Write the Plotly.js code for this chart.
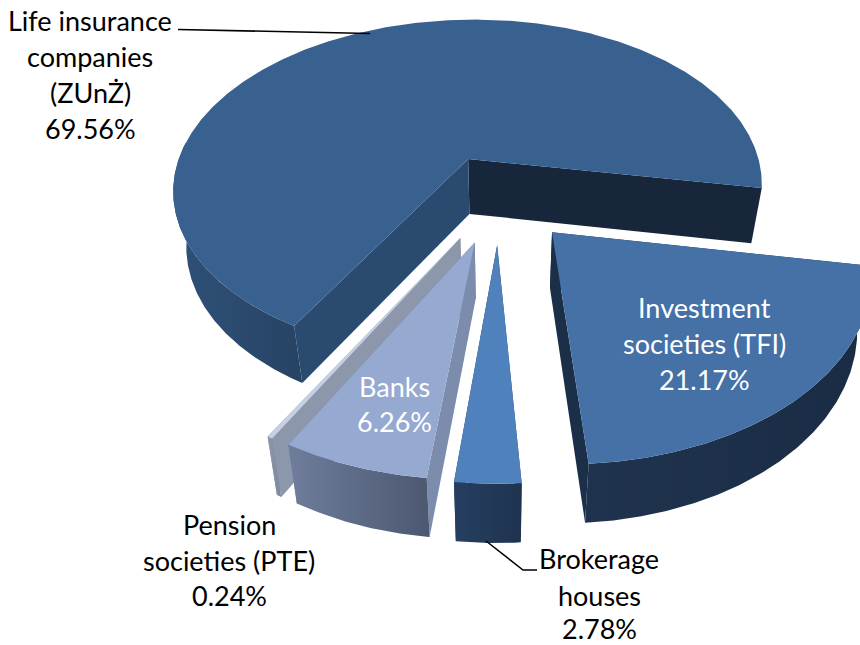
<!DOCTYPE html>
<html><head><meta charset="utf-8"><script src="https://cdn.plot.ly/plotly-3.0.1.min.js"></script>
<style>html,body{margin:0;padding:0;background:#fff}#c{width:860px;height:645px}</style></head><body><div id="c"></div>
<script>
const categories=["Life insurance companies (ZUnŻ)","Investment societies (TFI)","Brokerage houses","Banks","Pension societies (PTE)"];
const shares=[69.56,21.17,2.78,6.26,0.24];
const shareLabels=["69.56%","21.17%","2.78%","6.26%","0.24%"];
const explosion=[0.2506,0.2549,0.2569,0.2546,0.2517];
const topColors=['#396190','#4571a7','#4f81bd','#95a9d1','#c5d0e3'];
const fromWallColors=['#2b4a70','#1c2f48','#263f60','#7b8cad','#8c97ab'];
const toWallColors=['#17263a','#1c2f48','#1f3350','#6f7d9c','#8c97ab'];
const rimLeftColors=['#2f5178','#20334e','#263f60','#6f7d9c','#8c97ab'];
const rimRightColors=['#274365','#1a2c44','#1f3350','#4c5870','#7c88a0'];
const paintOrder=[0,4,1,3,2];
// projection of the tilted pie
const view={cx:498.99,cy:197.59,a:301.65,s:5.57,b:176.79,t:-2.65,k:0.1779,m:-0.0042,phi0:99.05};
const rad=d=>d*Math.PI/180;
const total=shares.reduce((u,v)=>u+v,0);
let start=view.phi0-shares[0]/total*360;
const slices=shares.map((v,i)=>{const sw=v/total*360;const S={from:start,to:start+sw,mid:start+sw/2,e:explosion[i]};start+=sw;return S;});
const proj=(X,Y)=>{const w=1+view.k*Y+view.m*X;return [view.cx+(view.a*X+view.s*Y)/w,view.cy-(view.b*Y+view.t*X)/w];};
const pt=(i,r,ph)=>{const S=slices[i];return proj(S.e*Math.sin(rad(S.mid))+r*Math.sin(rad(ph)),S.e*Math.cos(rad(S.mid))+r*Math.cos(rad(ph)));};
const drop=q=>[q[0]-0.04*(q[0]-500),q[1]+54+0.0135*(q[1]-100)];
function arc(i,a0,a1){const n=Math.max(2,Math.ceil(Math.abs(a1-a0)*2));const o=[];for(let j=0;j<=n;j++)o.push(pt(i,1,a0+(a1-a0)*j/n));return o;}
const traces=[];
function poly(i,pts,style){traces.push(Object.assign({type:'scatter',mode:'lines',name:categories[i],x:pts.map(q=>q[0]).concat(pts[0][0]),y:pts.map(q=>q[1]).concat(pts[0][1]),fill:'toself',line:{width:0},hoverinfo:'name'},style));}
for(const i of paintOrder){
  const S=slices[i];const A=pt(i,0,0);const F=pt(i,1,S.from),G=pt(i,1,S.to);
  const fromWall=[[A,F,drop(F),drop(A)],{fillcolor:fromWallColors[i]}];
  const toWall=[[A,G,drop(G),drop(A)],{fillcolor:toWallColors[i]}];
  // the wall that faces the viewer is painted last
  const walls=Math.sin(rad(S.mid))<0?[toWall,fromWall]:[fromWall,toWall];
  walls.forEach(w=>poly(i,w[0],w[1]));
  // rim: only the part facing the viewer
  const rim=arc(i,S.from,i===0?-85:S.to);
  poly(i,rim.concat(rim.slice().reverse().map(drop)),{fillgradient:{type:'horizontal',colorscale:[[0,rimLeftColors[i]],[1,rimRightColors[i]]]}});
  poly(i,[A].concat(arc(i,S.from,S.to)),{fillcolor:topColors[i]});
}
const labelLines=[
 {lines:["Life insurance","companies","(ZUnŻ)",shareLabels[0]],x:90,y:[20,56,92,128],color:'#000'},
 {lines:["Investment","societies (TFI)",shareLabels[1]],x:704,y:[307,343,379],color:'#fff'},
 {lines:["Banks",shareLabels[3]],x:394,y:[386,421],color:'#fff'},
 {lines:["Pension","societies (PTE)",shareLabels[4]],x:229,y:[524,560,595],color:'#000'},
 {lines:["Brokerage","houses",shareLabels[2]],x:599,y:[558,595,628],color:'#000'}];
const annotations=[];
for(const L of labelLines)L.lines.forEach((t,j)=>annotations.push({xref:'x',yref:'y',x:L.x,y:L.y[j],text:t,showarrow:false,xanchor:'center',yanchor:'middle',font:{family:'Lato, "Open Sans", sans-serif',size:27,color:L.color}}));
const shapes=[
 {type:'path',xref:'x',yref:'y',path:'M178,29.5 L370,33.5',line:{color:'#000',width:1.5}},
 {type:'path',xref:'x',yref:'y',path:'M486,541 L523,570 L537,570',line:{color:'#000',width:1.5}}];
Plotly.newPlot('c',traces,{width:860,height:645,margin:{l:0,r:0,t:0,b:0},showlegend:false,paper_bgcolor:'#fff',plot_bgcolor:'#fff',
 xaxis:{range:[0,860],visible:false,fixedrange:true},yaxis:{range:[645,0],visible:false,fixedrange:true},annotations,shapes},{displayModeBar:false});
</script></body></html>
